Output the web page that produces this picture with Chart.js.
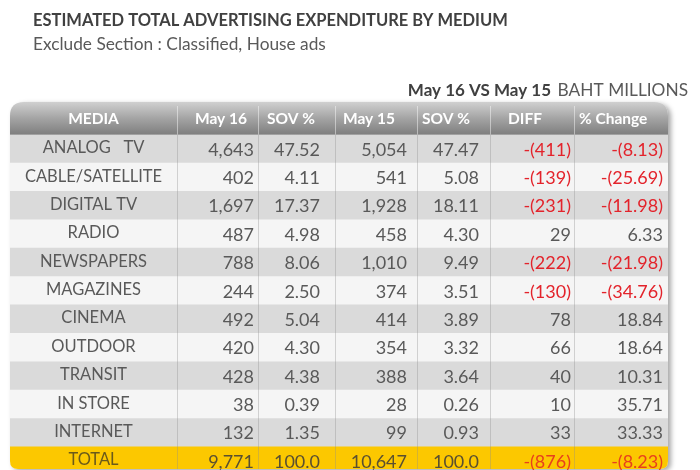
<!DOCTYPE html>
<html>
<head>
<meta charset="utf-8">
<script src="https://cdn.jsdelivr.net/npm/chart.js@4.4.0/dist/chart.umd.min.js"></script>
<style>
    body { margin: 0; background: #ffffff; }
    #wrap { width: 700px; height: 470px; position: relative; }
</style>
</head>
<body>
<div id="wrap"><canvas id="chart-adex"></canvas></div>
<script>
var media = ["ANALOG   TV", "CABLE/SATELLITE", "DIGITAL TV", "RADIO", "NEWSPAPERS", "MAGAZINES",
    "CINEMA", "OUTDOOR", "TRANSIT", "IN STORE", "INTERNET", "TOTAL"];
var may16 = [4643, 402, 1697, 487, 788, 244, 492, 420, 428, 38, 132, 9771];
var sov16 = [47.52, 4.11, 17.37, 4.98, 8.06, 2.50, 5.04, 4.30, 4.38, 0.39, 1.35, 100.0];
var may15 = [5054, 541, 1928, 458, 1010, 374, 414, 354, 388, 28, 99, 10647];
var sov15 = [47.47, 5.08, 18.11, 4.30, 9.49, 3.51, 3.89, 3.32, 3.64, 0.26, 0.93, 100.0];
var diff = [-411, -139, -231, 29, -222, -130, 78, 66, 40, 10, 33, -876];
var pctChange = [-8.13, -25.69, -11.98, 6.33, -21.98, -34.76, 18.84, 18.64, 10.31, 35.71, 33.33, -8.23];
var headers = ["MEDIA", "May 16", "SOV %", "May 15", "SOV %", "DIFF", "% Change"];

// Layout of the table (x axis units)
var colEdges = [0, 167, 248, 325, 407, 480, 564, 658];
var rightPad = [0, 4, 15, 10, 11, 3, 5];
var headPad = [0, 18, 9, 8, 5, 18, 5];

var FONT = "Lato, 'Open Sans', sans-serif";
var last = media.length - 1;

function fmtInt(v) {
    var s = Math.abs(v).toLocaleString("en-US");
    return v < 0 ? "-(" + s + ")" : s;
}
function fmtDec(v, d) {
    var s = Math.abs(v).toFixed(d);
    return v < 0 ? "-(" + s + ")" : s;
}

function tablePath(ctx, l, t, r, b) {
    var rt = 14, rb = 8;
    ctx.beginPath();
    ctx.moveTo(l + rt, t);
    ctx.lineTo(r - rt, t);
    ctx.quadraticCurveTo(r, t, r, t + rt);
    ctx.lineTo(r, b - rb);
    ctx.quadraticCurveTo(r, b, r - rb, b);
    ctx.lineTo(l + rb, b);
    ctx.quadraticCurveTo(l, b, l, b - rb);
    ctx.lineTo(l, t + rt);
    ctx.quadraticCurveTo(l, t, l + rt, t);
    ctx.closePath();
}

var tablePlugin = {
    id: "tableDraw",
    beforeDatasetsDraw: function (chart) {
        var ctx = chart.ctx, a = chart.chartArea;
        ctx.save();
        ctx.shadowColor = "rgba(0,0,0,0.35)";
        ctx.shadowBlur = 5;
        ctx.shadowOffsetX = 3;
        ctx.shadowOffsetY = 2;
        tablePath(ctx, a.left, a.top, a.right, a.bottom);
        ctx.fillStyle = "#f5f5f5";
        ctx.fill();
        ctx.restore();
        ctx.save();
        tablePath(ctx, a.left, a.top, a.right, a.bottom);
        ctx.clip();
    },
    afterDatasetsDraw: function (chart) {
        var ctx = chart.ctx, a = chart.chartArea;
        var xs = chart.scales.x, ys = chart.scales.y;
        var hTop = ys.getPixelForValue(ys.min), hBot = ys.getPixelForValue(0);

        // header band
        var g = ctx.createLinearGradient(0, hTop, 0, hBot);
        g.addColorStop(0, "#d0d0d0");
        g.addColorStop(0.5, "#a4a4a4");
        g.addColorStop(1, "#7e7e7e");
        ctx.fillStyle = g;
        ctx.fillRect(a.left, hTop, a.right - a.left, hBot - hTop);

        // column separators
        for (var c = 1; c < colEdges.length - 1; c++) {
            var x = Math.round(xs.getPixelForValue(colEdges[c])) + 0.5;
            ctx.strokeStyle = "rgba(255,255,255,0.45)";
            ctx.lineWidth = 1;
            ctx.beginPath();
            ctx.moveTo(x, hTop + 4);
            ctx.lineTo(x, hBot);
            ctx.stroke();
            ctx.strokeStyle = "rgba(140,140,140,0.35)";
            ctx.beginPath();
            ctx.moveTo(x, hBot);
            ctx.lineTo(x, a.bottom);
            ctx.stroke();
        }
        ctx.restore();

        // header text
        ctx.save();
        ctx.textBaseline = "middle";
        ctx.fillStyle = "#ffffff";
        ctx.font = "bold 15.5px " + FONT;
        var hMid = (hTop + hBot) / 2 + 1;
        for (var h = 0; h < headers.length; h++) {
            var l = xs.getPixelForValue(colEdges[h]), r = xs.getPixelForValue(colEdges[h + 1]);
            if (h === 0) {
                ctx.textAlign = "center";
                ctx.fillText(headers[h], (l + r) / 2, hMid);
            } else {
                ctx.textAlign = "left";
                ctx.fillText(headers[h], l + headPad[h], hMid);
            }
        }

        // body cells
        for (var i = 0; i < media.length; i++) {
            var y = ys.getPixelForValue(i + 0.5) + 1;
            var isTotal = i === last;
            var red = isTotal ? "#e8401c" : "#e3232b";
            var grey = isTotal ? "#6a5a1a" : "#595959";
            var cells = [
                media[i],
                fmtInt(may16[i]),
                fmtDec(sov16[i], isTotal ? 1 : 2),
                fmtInt(may15[i]),
                fmtDec(sov15[i], isTotal ? 1 : 2),
                fmtInt(diff[i]),
                fmtDec(pctChange[i], 2)
            ];
            for (var k = 0; k < cells.length; k++) {
                var cl = xs.getPixelForValue(colEdges[k]), cr = xs.getPixelForValue(colEdges[k + 1]);
                if (k === 0) {
                    ctx.font = "16.5px " + FONT;
                    ctx.fillStyle = grey;
                    ctx.textAlign = "center";
                    ctx.fillText(cells[k], (cl + cr) / 2, y - 2);
                } else {
                    ctx.font = "18px " + FONT;
                    var neg = (k === 5 && diff[i] < 0) || (k === 6 && pctChange[i] < 0);
                    ctx.fillStyle = neg ? red : (isTotal ? "#5a5030" : "#595959");
                    ctx.textAlign = "right";
                    ctx.fillText(cells[k], cr - rightPad[k], y);
                }
            }
        }
        ctx.restore();

        // titles
        ctx.save();
        ctx.textBaseline = "alphabetic";
        ctx.textAlign = "left";
        ctx.fillStyle = "#404040";
        ctx.font = "bold 16.5px " + FONT;
        ctx.fillText("ESTIMATED TOTAL ADVERTISING EXPENDITURE BY MEDIUM", 33, 26);
        ctx.fillStyle = "#595959";
        ctx.font = "17.3px " + FONT;
        ctx.fillText("Exclude Section : Classified, House ads", 33, 50);
        ctx.textAlign = "right";
        ctx.fillText("BAHT MILLIONS", 688, 96);
        ctx.fillStyle = "#404040";
        ctx.font = "bold 17px " + FONT;
        ctx.fillText("May 16 VS May 15", 551, 96);
        ctx.restore();
    }
};

var ctx = document.getElementById("chart-adex").getContext("2d");
var myChart = new Chart(ctx, {
    type: "bar",
    data: {
        datasets: [
            {
                label: "rows",
                data: media.map(function (m, i) {
                    return { x: [colEdges[0], colEdges[colEdges.length - 1]], y: i + 0.5 };
                }),
                backgroundColor: media.map(function (m, i) {
                    if (i === last) return "#fcc800";
                    return i % 2 === 0 ? "#dadada" : "#f5f5f5";
                }),
                borderWidth: 0,
                barPercentage: 1,
                categoryPercentage: 1
            }
        ]
    },
    options: {
        indexAxis: "y",
        responsive: true,
        maintainAspectRatio: false,
        animation: false,
        layout: {
            padding: { left: 10, right: 32, top: 102, bottom: 1 }
        },
        scales: {
            x: { type: "linear", display: false, offset: false, min: 0, max: 658 },
            y: { type: "linear", display: false, offset: false, reverse: true, min: -1.15, max: 11.78 }
        },
        plugins: {
            legend: { display: false },
            tooltip: { enabled: false }
        }
    },
    plugins: [tablePlugin]
});
</script>
</body>
</html>
